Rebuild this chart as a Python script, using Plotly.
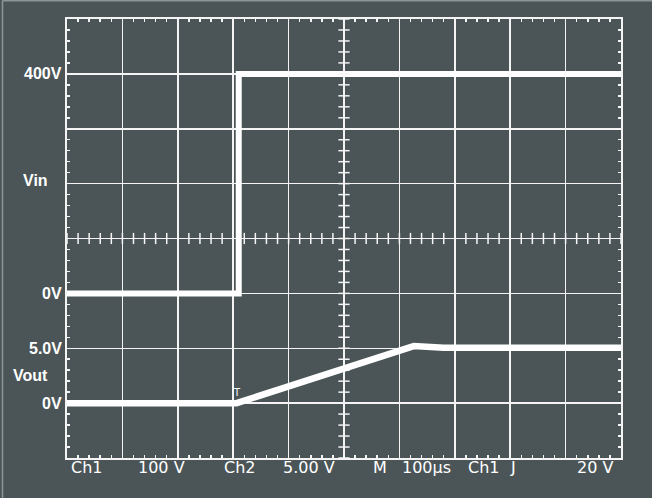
import numpy as np
import plotly.graph_objects as go

# ---- data ----
# time in microseconds across the 10-division screen (100 us/div)
t_vin = [0, 310, 310, 1000]
vin = [0, 0, 400, 400]            # Ch1, volts (100 V/div)

t_vout = [0, 306, 626, 680, 1000]
vout = [0, 0, 5.2, 5.05, 5.05]    # Ch2, volts (5 V/div)

left_labels = [("400V", 400, "y"), ("Vin", 205, "y"), ("0V", 0, "y"),
               ("5.0V", 5, "y2"), ("Vout", 2.5, "y2"), ("0V", 0, "y2")]
bottom_labels = [("Ch1", 71), ("100 V", 138), ("Ch2", 224), ("5.00 V", 283),
                 ("M", 373), ("100\u00b5s", 402), ("Ch1", 468), ("J", 510),
                 ("20 V", 577)]

# ---- layout constants ----
W, H = 652, 498
L, R, T, B = 67, 621, 19, 458
BG = "#4b5557"
WHITE = "#f4f4f4"

fig = go.Figure()

fig.add_trace(go.Scatter(x=t_vin, y=vin, mode="lines",
                         line=dict(color="white", width=6), yaxis="y"))
fig.add_trace(go.Scatter(x=t_vout, y=vout, mode="lines",
                         line=dict(color="white", width=6.5), yaxis="y2"))

# centre-graticule ticks
xt = np.arange(0, 1001, 20)
fig.add_trace(go.Scatter(x=xt, y=[100] * len(xt), mode="markers", yaxis="y",
                         marker=dict(symbol="line-ns", size=8,
                                     line=dict(color=WHITE, width=1.5))))
yt = np.arange(-300, 501, 20)
fig.add_trace(go.Scatter(x=[500] * len(yt), y=yt, mode="markers", yaxis="y",
                         marker=dict(symbol="line-ew", size=8,
                                     line=dict(color=WHITE, width=1.5))))

axis_common = dict(showgrid=True, gridcolor=WHITE, gridwidth=1.5,
                   zeroline=False, showline=True, linecolor=WHITE, linewidth=2,
                   mirror="allticks", ticks="", showticklabels=False)

fig.update_layout(
    width=W, height=H, autosize=False,
    margin=dict(l=L, r=W - R, t=T, b=H - B, pad=0),
    paper_bgcolor=BG, plot_bgcolor=BG,
    showlegend=False, hovermode=False,
    xaxis=dict(range=[0, 1000], dtick=100, tick0=0,
               minor=dict(dtick=20, tick0=0, ticks="inside", ticklen=3,
                          tickcolor=WHITE, tickwidth=1.5, showgrid=False),
               **axis_common),
    yaxis=dict(range=[-300, 500], dtick=100, tick0=0,
               minor=dict(dtick=20, tick0=0, ticks="inside", ticklen=3,
                          tickcolor=WHITE, tickwidth=1.5, showgrid=False),
               **axis_common),
    yaxis2=dict(range=[-5, 35], overlaying="y", visible=False),
)

lab_font = dict(family="Liberation Sans, Arial", size=16, color="white")
for text, val, ref in left_labels:
    shift = -17 if text in ("Vin", "Vout") else -3
    fig.add_annotation(x=0, xref="paper", xanchor="right", xshift=shift,
                       y=val, yref=ref, yanchor="middle", text=f"<b>{text}</b>",
                       showarrow=False, font=lab_font)

bot_font = dict(family="DejaVu Sans", size=16, color="white")
for text, px in bottom_labels:
    fig.add_annotation(x=(px - L) / (R - L), xref="paper", xanchor="left",
                       xshift=-2, y=0, yref="paper", yanchor="middle", yshift=-9,
                       text=text, showarrow=False, font=bot_font)

# trigger marker
fig.add_annotation(x=t_vout[1], y=0, yref="y2", yanchor="bottom", yshift=3,
                   text="T", showarrow=False,
                   font=dict(family="DejaVu Sans", size=10, color=WHITE))

# light image border (left and top)
fig.add_shape(type="line", xref="paper", yref="paper",
              x0=(2.5 - L) / (R - L), x1=(2.5 - L) / (R - L),
              y0=(B - H) / (B - T), y1=(B - 0.5) / (B - T),
              line=dict(color="#8c9496", width=1.5))
fig.add_shape(type="line", xref="paper", yref="paper",
              x0=(2.5 - L) / (R - L), x1=(W - L) / (R - L),
              y0=(B - 0.8) / (B - T), y1=(B - 0.8) / (B - T),
              line=dict(color="#8c9496", width=1.5))

fig.write_html("out.html",
               config={"displayModeBar": False, "staticPlot": True},
               post_script="document.body.style.margin='0';"
                           "document.body.style.background='" + BG + "';")
